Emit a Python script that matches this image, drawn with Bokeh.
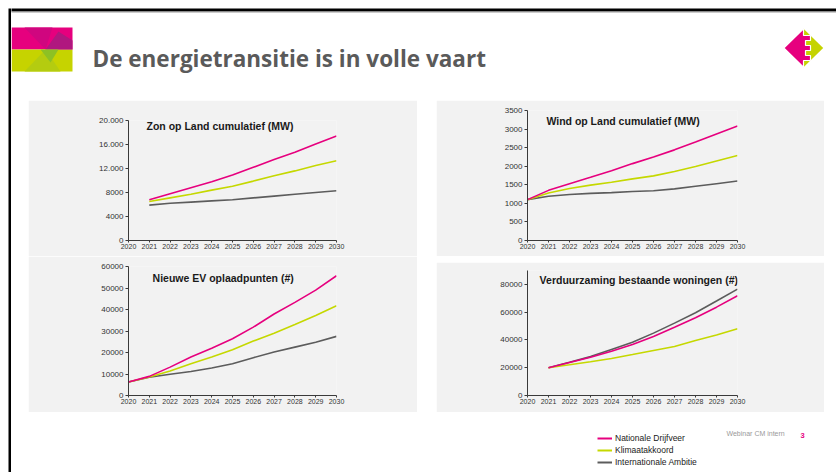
from bokeh.plotting import figure
from bokeh.models import Range1d, FixedTicker, Label, Legend, LegendItem, Spacer
from bokeh.layouts import row, column
from bokeh.embed import file_html
from bokeh.resources import INLINE

# ---------------- data ----------------
years = list(range(2020, 2031))
years_from_2021 = list(range(2021, 2031))
series_names = ["Nationale Drijfveer", "Klimaatakkoord", "Internationale Ambitie"]

zon_nationale = [6800, 7800, 8800, 9800, 10900, 12200, 13500, 14700, 16100, 17400]
zon_klimaat = [6500, 7100, 7700, 8400, 9050, 9900, 10800, 11600, 12500, 13300]
zon_internationaal = [5900, 6200, 6400, 6600, 6800, 7100, 7400, 7700, 8000, 8300]
zon_ticks = [0, 4000, 8000, 12000, 16000, 20000]
zon_labels = ["0", "4000", "8000", "12.000", "16.000", "20.000"]

wind_nationale = [1100, 1350, 1530, 1700, 1880, 2070, 2250, 2440, 2650, 2870, 3080]
wind_klimaat = [1100, 1280, 1400, 1490, 1570, 1660, 1740, 1860, 1990, 2140, 2290]
wind_internationaal = [1100, 1190, 1240, 1270, 1290, 1320, 1340, 1390, 1460, 1530, 1600]
wind_ticks = [0, 500, 1000, 1500, 2000, 2500, 3000, 3500]
wind_labels = ["0", "500", "1000", "1500", "2000", "2500", "3000", "3500"]

ev_nationale = [6300, 8900, 13200, 17900, 22000, 26400, 31800, 37900, 43300, 49000, 55700]
ev_klimaat = [6300, 8600, 11400, 14800, 17900, 21300, 25300, 29000, 33000, 37200, 41700]
ev_internationaal = [6300, 8500, 9900, 11200, 12800, 14800, 17600, 20200, 22500, 24800, 27500]
ev_ticks = [0, 10000, 20000, 30000, 40000, 50000, 60000]
ev_labels = ["0", "10000", "20000", "30000", "40000", "50000", "60000"]

won_nationale = [20000, 23800, 27600, 31900, 36800, 42500, 49200, 56000, 63600, 71800]
won_klimaat = [20000, 22100, 24300, 26700, 29500, 32400, 35300, 39600, 43500, 48100]
won_internationaal = [20000, 23900, 28000, 33200, 38400, 44900, 52100, 59600, 68000, 76600]
won_ticks = [0, 20000, 40000, 60000, 80000]
won_labels = ["0", "20000", "40000", "60000", "80000"]

PINK = "#e6007e"
LIME = "#c5d800"
GREY = "#5c5c5c"
BG = "#f2f2f2"
FONT = "Liberation Sans"


def base_fig(w, h, xr, yr, bg="white"):
    f = figure(width=w, height=h, x_range=Range1d(*xr), y_range=Range1d(*yr),
               output_backend="svg", toolbar_location=None, min_border=0,
               background_fill_color=bg, border_fill_color=bg, outline_line_color=None)
    f.axis.visible = False
    f.grid.visible = False
    return f


def box(f, x0, x1, y0, y1, color):
    f.patch([x0, x1, x1, x0], [y0, y0, y1, y1], color=color, line_color=None)


def chart(title, xs, nat, kli, inte, ymax, ticks, labels, w, h, ml, mr, mt, mb, tx, ty):
    p = figure(width=w, height=h, x_range=Range1d(2020, 2030), y_range=Range1d(0, ymax),
               output_backend="svg", toolbar_location=None,
               min_border_left=ml, min_border_right=mr, min_border_top=mt, min_border_bottom=mb,
               background_fill_color=BG, border_fill_color=BG, outline_line_color=None)
    p.grid.visible = False
    for ax in (p.xaxis[0], p.yaxis[0]):
        ax.axis_line_color = "#3a3a3a"
        ax.axis_line_width = 1
        ax.major_tick_line_color = "#3a3a3a"
        ax.major_tick_in = 0
        ax.minor_tick_line_color = None
        ax.major_label_text_color = "#333333"
        ax.major_label_text_font = FONT
    p.xaxis.ticker = FixedTicker(ticks=years)
    p.xaxis.major_tick_out = 2
    p.xaxis.major_label_standoff = 1
    p.xaxis.major_label_text_font_size = "7px"
    p.yaxis.ticker = FixedTicker(ticks=ticks)
    p.yaxis.major_label_overrides = {float(t): l for t, l in zip(ticks, labels)}
    p.yaxis.major_tick_out = 3
    p.yaxis.major_label_standoff = 2
    p.yaxis.major_label_text_font_size = "8px"
    p.line(xs, inte, color=GREY, line_width=1.6)
    p.line(xs, kli, color=LIME, line_width=1.6)
    p.line(xs, nat, color=PINK, line_width=1.6)
    p.add_layout(Label(x=tx, y=ty, text=title, text_font=FONT, text_font_size="10.5px",
                       text_font_style="bold", text_align="center", text_baseline="middle",
                       text_color="#1a1a1a"))
    return p


# ---------------- full-height left border strip (page x 0-11) ----------------
strip = base_fig(11, 472, (0, 11), (472, 0))
box(strip, 8, 11, 8, 480, "black")

# ---------------- header (page x 11-836, y 0-100) ----------------
hdr = base_fig(825, 100, (11, 836), (100, 0))
box(hdr, 5, 840, 8, 11, "black")
box(hdr, 5, 840, 11, 12, "#9a9a9a")
# left logo block
hdr.patches(
    xs=[[11, 72, 72, 11], [11, 72, 72, 11],
        [24, 52, 45], [45, 72, 72, 58],
        [24, 45, 60], [40, 58, 50]],
    ys=[[27, 27, 49, 49], [49, 49, 71, 71],
        [27, 27, 49], [49, 49, 40, 31],
        [71, 49, 71], [49, 49, 62]],
    color=["#e6007e", "#c6d300", "#d0067f", "#b0177f", "#b4cc10", "#8dc124"],
    line_color=None)
hdr.add_layout(Label(x=92, y=58, text="De energietransitie is in volle vaart",
                     text_font="Open Sans", text_font_size="22.5px", text_font_style="bold",
                     text_color="#5a5a5a", text_baseline="alphabetic"))
# right diamond logo
hdr.patch([783.3, 803, 822.7, 803], [47.5, 28.3, 47.5, 66.7], color="#c5d300", line_color=None)
hdr.patch([783.3, 803, 803, 810, 810, 805, 805, 810, 810, 805, 805, 810, 810, 803, 803],
          [47.5, 28.3, 35, 35, 40, 40, 45, 45, 50, 50, 55, 55, 60, 60, 66.7],
          color="#e6007e", line_color="white", line_width=1.2)

# ---------------- charts (page y 100-412) ----------------
c1 = chart("Zon op Land cumulatief (MW)", years_from_2021, zon_nationale, zon_klimaat,
           zon_internationaal, 20000, zon_ticks, zon_labels,
           389, 156, 100, 81, 20, 16, 2024.4, 19050)
c3 = chart("Nieuwe EV oplaadpunten (#)", years, ev_nationale, ev_klimaat,
           ev_internationaal, 60000, ev_ticks, ev_labels,
           389, 156, 100, 80, 10, 17, 2024.55, 54800)
c2 = chart("Wind op Land cumulatief (MW)", years, wind_nationale, wind_klimaat,
           wind_internationaal, 3500, wind_ticks, wind_labels,
           388, 156, 90, 87, 10, 16, 2024.55, 3230)
c4 = chart("Verduurzaming bestaande woningen (#)", years_from_2021, won_nationale, won_klimaat,
           won_internationaal, 90000, won_ticks, won_labels,
           388, 150, 91, 87, 8, 17, 2025.3, 82900)

middle = row(Spacer(width=17, height=312), column(c1, c3), Spacer(width=19, height=312),
             column(c2, Spacer(width=388, height=6), c4), Spacer(width=12, height=312))

# ---------------- footer (page x 11-836, y 412-472) ----------------
foot = base_fig(825, 60, (11, 836), (472, 412))
nan = float("nan")
r_nat = foot.line(x=[nan], y=[nan], color=PINK, line_width=2)
r_kli = foot.line(x=[nan], y=[nan], color=LIME, line_width=2)
r_int = foot.line(x=[nan], y=[nan], color=GREY, line_width=2)
legend = Legend(items=[LegendItem(label=series_names[0], renderers=[r_nat]),
                       LegendItem(label=series_names[1], renderers=[r_kli]),
                       LegendItem(label=series_names[2], renderers=[r_int])],
                location=(586, 4), orientation="vertical",
                glyph_width=15, glyph_height=12, label_height=12, label_standoff=3,
                spacing=0, padding=0, margin=0,
                label_text_font=FONT, label_text_font_size="8.5px", label_text_color="#1a1a1a",
                border_line_color=None, background_fill_alpha=0)
foot.add_layout(legend)
foot.add_layout(Label(x=726, y=432.5, text="Webinar CM intern", text_font=FONT,
                      text_font_size="7px", text_color="#9a9a9a", text_baseline="middle"))
foot.add_layout(Label(x=800, y=435, text="3", text_font=FONT, text_font_size="7.5px",
                      text_font_style="bold", text_color=PINK, text_baseline="middle"))

page = row(strip, column(hdr, middle, foot))
open("out.html", "w").write(file_html(page, INLINE))
